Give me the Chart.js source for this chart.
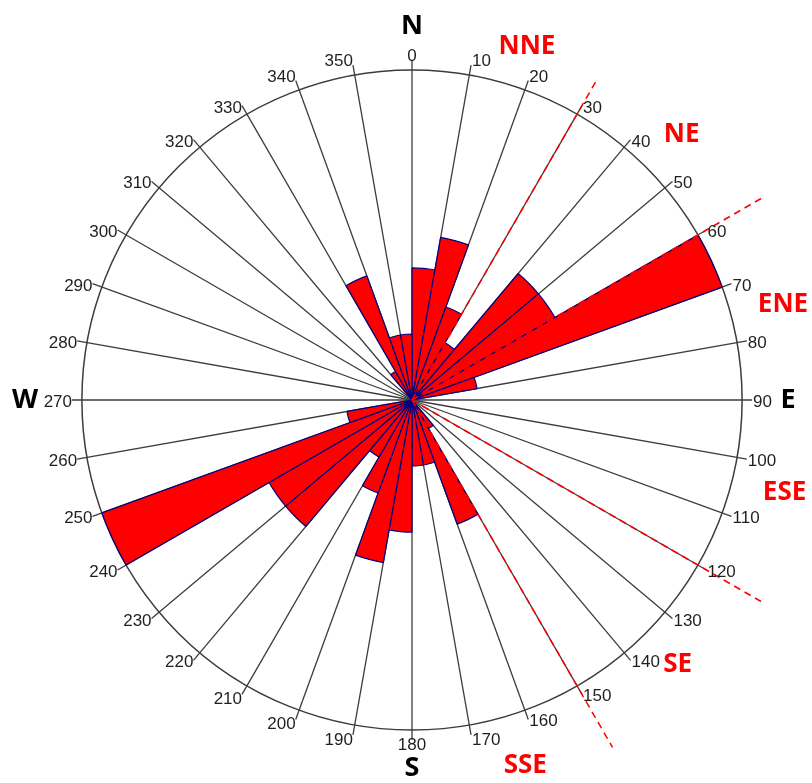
<!DOCTYPE html>
<html>
<head>
<meta charset="utf-8">
<script src="https://cdn.jsdelivr.net/npm/chart.js@4.4.1/dist/chart.umd.min.js"></script>
<style>
  html, body { margin: 0; padding: 0; background: #ffffff; }
  #wrap { position: relative; width: 812px; height: 783px; }
</style>
</head>
<body>
<div id="wrap"><canvas id="rose" width="812" height="783"></canvas></div>
<script>
// ---- data ----
const sectorLabels = ['0','10','20','30','40','50','60','70','80','90','100','110',
  '120','130','140','150','160','170','180','190','200','210','220','230',
  '240','250','260','270','280','290','300','310','320','330','340','350'];
// counts per 10-degree sector, starting at 0-10 and going clockwise
const sectorCounts = [4,5,3,2,5,5,10,2,0,0,0,0,0,0,1,4,2,2,
                      4,5,3,2,5,5,10,2,0,0,0,0,0,0,1,4,2,2];
const scaleMax = 10;
const dashedBearings = [30, 60, 120, 150];
const compassNames = ['N','E','S','W'];
const compassBearings = [0, 90, 180, 270];
const zoneNames = ['NNE','NE','ENE','ESE','SE','SSE'];
const zoneBearings = [18, 45.5, 75.6, 104, 134.9, 162.8];

// ---- layout (pixels) ----
const dashedLengths = [372, 408, 405, 401];
const compassDist = [374, 376, 368, 387];
const zoneDist = [372, 378, 383, 384, 375, 383];

function polar(scale, bearing, dist) {
  const a = (bearing - 90) * Math.PI / 180;
  return { x: scale.xCenter + Math.cos(a) * dist, y: scale.yCenter + Math.sin(a) * dist };
}

const annotate = {
  id: 'annotate',
  afterDatasetsDraw(chart) {
    const s = chart.scales.r;
    const ctx = chart.ctx;
    ctx.save();
    ctx.strokeStyle = '#ff0000';
    ctx.lineWidth = 1.5;
    ctx.setLineDash([7, 5]);
    dashedBearings.forEach((b, i) => {
      const p = polar(s, b, dashedLengths[i]);
      ctx.beginPath();
      ctx.moveTo(s.xCenter, s.yCenter);
      ctx.lineTo(p.x, p.y);
      ctx.stroke();
    });
    ctx.restore();
  },
  afterDraw(chart) {
    const s = chart.scales.r;
    const ctx = chart.ctx;
    ctx.save();
    // bearing tick labels
    ctx.font = '17px "Liberation Sans", Arial, sans-serif';
    ctx.fillStyle = '#1f1f1f';
    ctx.textBaseline = 'alphabetic';
    sectorLabels.forEach((lab, i) => {
      const b = i * 360 / sectorLabels.length;
      const p = s.getPointPosition(i, s.drawingArea);
      let align = (b === 0 || b === 180) ? 'center' : (b < 180 ? 'left' : 'right');
      let dy;
      if (b <= 20 || b >= 340) dy = 1;
      else if (b >= 170 && b <= 210) dy = 10;
      else dy = 7;
      ctx.textAlign = align;
      ctx.fillText(lab, p.x + (align === 'left' ? 1 : 0), p.y + dy);
    });
    // compass letters
    ctx.textAlign = 'center';
    ctx.textBaseline = 'middle';
    ctx.font = 'bold 27px "Open Sans", "DejaVu Sans", sans-serif';
    ctx.fillStyle = '#000000';
    compassNames.forEach((n, i) => {
      const p = polar(s, compassBearings[i], compassDist[i]);
      ctx.fillText(n, p.x, p.y);
    });
    ctx.font = 'bold 26px "Open Sans", "DejaVu Sans", sans-serif';
    ctx.fillStyle = '#ff0000';
    zoneNames.forEach((n, i) => {
      const p = polar(s, zoneBearings[i], zoneDist[i]);
      ctx.fillText(n, p.x, p.y);
    });
    ctx.restore();
  }
};

new Chart(document.getElementById('rose'), {
  type: 'polarArea',
  data: {
    labels: sectorLabels,
    datasets: [{
      data: sectorCounts,
      backgroundColor: '#ff0000',
      borderColor: '#000080',
      borderWidth: 1.2
    }]
  },
  options: {
    responsive: false,
    animation: false,
    layout: { padding: { left: 72, right: 60, top: 60, bottom: 43 } },
    plugins: { legend: { display: false }, tooltip: { enabled: false } },
    scales: {
      r: {
        min: 0,
        max: scaleMax * 1.03,
        startAngle: 0,
        ticks: { display: false, stepSize: scaleMax },
        grid: {
          circular: true,
          lineWidth: 1.5,
          color: (c) => (c.tick && Math.abs(c.tick.value - scaleMax) < 1e-6) ? '#3c3c3c' : 'rgba(0,0,0,0)'
        },
        angleLines: { display: true, color: '#3c3c3c', lineWidth: 1.3 },
        pointLabels: { display: false }
      }
    }
  },
  plugins: [annotate]
});
</script>
</body>
</html>
